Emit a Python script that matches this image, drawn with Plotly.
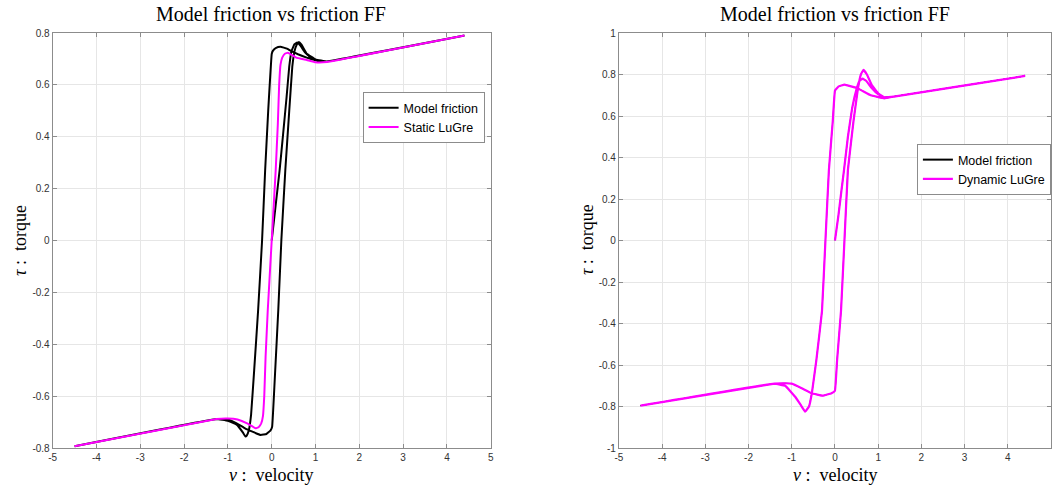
import plotly.graph_objects as go

# ---- Left panel: model friction (hysteresis loop) and static LuGre map ----
left_model_v = [0, 0.09, 0.18, 0.26, 0.34, 0.40, 0.45, 0.52, 0.58, 0.66, 0.76, 0.9, 1.05, 1.26, 4.4,
                1.26, 1.0, 0.8, 0.6, 0.47, 0.35, 0.2, 0.1, 0.03, 0.0, -0.08, -0.15, -0.22, -0.31, -0.40,
                -0.47, -0.52, -0.57, -0.6, -0.66, -0.8, -1.0, -1.26, -4.5,
                -1.26, -1.0, -0.8, -0.6, -0.44, -0.25, -0.12, -0.03, 0.01, 0.08, 0.15, 0.22, 0.31, 0.40,
                0.47, 0.52, 0.57, 0.62, 0.68, 0.8, 1.0, 1.26, 4.4]
left_model_tau = [0, 0.135, 0.27, 0.41, 0.554, 0.67, 0.73, 0.757, 0.763, 0.75, 0.725, 0.703, 0.692, 0.69, 0.79,
                  0.69, 0.695, 0.705, 0.718, 0.728, 0.74, 0.747, 0.743, 0.732, 0.719, 0.5, 0.27, 0.0, -0.268, -0.5,
                  -0.67, -0.73, -0.752, -0.756, -0.74, -0.71, -0.695, -0.688, -0.793,
                  -0.688, -0.69, -0.705, -0.725, -0.737, -0.75, -0.746, -0.733, -0.718, -0.5, -0.268, 0.0, 0.27, 0.5,
                  0.67, 0.73, 0.755, 0.765, 0.755, 0.72, 0.698, 0.69, 0.79]

left_static_v = [-4.5, -1.26, -1.0, -0.78, -0.56, -0.45, -0.37, -0.3, -0.24, -0.2, -0.17, -0.14, -0.09, 0,
                 0.09, 0.14, 0.17, 0.2, 0.24, 0.3, 0.37, 0.45, 0.56, 0.8, 1.0, 1.26, 4.4]
left_static_tau = [-0.793, -0.688, -0.686, -0.69, -0.705, -0.716, -0.724, -0.72, -0.705, -0.677, -0.6, -0.45, -0.268, 0,
                   0.268, 0.45, 0.6, 0.677, 0.705, 0.72, 0.724, 0.716, 0.705, 0.696, 0.687, 0.688, 0.79]

# ---- Right panel: dynamic LuGre (model friction lies underneath) ----
right_dyn_v = [0, 0.08, 0.15, 0.21, 0.3, 0.4, 0.5, 0.57, 0.64, 0.72, 0.85, 1.0, 1.14, 1.4, 4.4,
               1.4, 1.14, 0.83, 0.53, 0.22, 0.08, 0.0, -0.05, -0.14, -0.22, -0.30, -0.43, -0.53, -0.6, -0.69,
               -0.8, -0.92, -1.15, -1.4, -4.5,
               -1.4, -1.15, -1.0, -0.77, -0.54, -0.28, -0.08, 0.0, 0.05, 0.14, 0.22, 0.30, 0.43, 0.53, 0.6,
               0.66, 0.74, 0.85, 1.0, 1.14, 1.4, 4.4]
right_dyn_tau = [0, 0.12, 0.24, 0.34, 0.5, 0.64, 0.73, 0.77, 0.78, 0.77, 0.735, 0.705, 0.69, 0.695, 0.793,
                 0.695, 0.685, 0.70, 0.733, 0.751, 0.742, 0.722, 0.576, 0.34, 0.0, -0.34, -0.576, -0.73, -0.8, -0.825,
                 -0.79, -0.753, -0.70, -0.69, -0.796,
                 -0.69, -0.688, -0.69, -0.712, -0.736, -0.748, -0.736, -0.724, -0.576, -0.34, 0.0, 0.34, 0.576, 0.73, 0.8,
                 0.822, 0.8, 0.75, 0.71, 0.69, 0.695, 0.793]

# ---- Tick values / labels ----
x_ticks = [-5, -4, -3, -2, -1, 0, 1, 2, 3, 4, 5]
x_ticklabels = ["-5", "-4", "-3", "-2", "-1", "0", "1", "2", "3", "4", "5"]
left_y_ticks = [-0.8, -0.6, -0.4, -0.2, 0, 0.2, 0.4, 0.6, 0.8]
left_y_ticklabels = ["-0.8", "-0.6", "-0.4", "-0.2", "0", "0.2", "0.4", "0.6", "0.8"]
right_y_ticks = [-1, -0.8, -0.6, -0.4, -0.2, 0, 0.2, 0.4, 0.6, 0.8, 1]
right_y_ticklabels = ["-1", "-0.8", "-0.6", "-0.4", "-0.2", "0", "0.2", "0.4", "0.6", "0.8", "1"]

W, H = 1054, 486
MT, MB = 33, 38
PH = H - MT - MB
BLACK = "#000000"
MAGENTA = "#ff00ff"
SERIF = "Liberation Serif, Times New Roman, serif"
SANS = "Liberation Sans, Arial, sans-serif"


def px_x(p):
    return p / W


def px_y(p):
    return (H - MB - p) / PH


def line_style(color, width=2):
    return dict(color=color, width=width, shape="spline", smoothing=0.2)


fig = go.Figure()
fig.add_trace(go.Scatter(x=left_model_v, y=left_model_tau, mode="lines", name="Model friction",
                         line=line_style(BLACK), xaxis="x", yaxis="y", legend="legend"))
fig.add_trace(go.Scatter(x=left_static_v, y=left_static_tau, mode="lines", name="Static LuGre",
                         line=line_style(MAGENTA), xaxis="x", yaxis="y", legend="legend"))

# Right panel: the model-friction curve is drawn thin beneath the LuGre curve;
# its legend entry uses a standard-width key.
fig.add_trace(go.Scatter(x=right_dyn_v, y=right_dyn_tau, mode="lines", name="Model friction",
                         line=line_style(BLACK, 1), xaxis="x2", yaxis="y2", showlegend=False))
fig.add_trace(go.Scatter(x=[None], y=[None], mode="lines", name="Model friction",
                         line=line_style(BLACK), xaxis="x2", yaxis="y2", legend="legend2"))
fig.add_trace(go.Scatter(x=right_dyn_v, y=right_dyn_tau, mode="lines", name="Dynamic LuGre",
                         line=line_style(MAGENTA, 2.2), xaxis="x2", yaxis="y2", legend="legend2"))

axis_common = dict(
    showline=True, linecolor="#8c8c8c", linewidth=1, mirror="allticks",
    ticks="inside", ticklen=4, tickcolor="#8c8c8c", tickwidth=1,
    showgrid=True, gridcolor="#e6e6e6", gridwidth=1, zeroline=False,
    tickfont=dict(family=SANS, size=10, color="#333333"),
)

legend_common = dict(xanchor="left", yanchor="top", bgcolor="white", bordercolor="#8c8c8c",
                     borderwidth=1, font=dict(family=SANS, size=12.5, color="#000000"),
                     tracegroupgap=0, itemwidth=30)

fig.update_layout(
    width=W, height=H,
    margin=dict(l=0, r=0, t=MT, b=MB),
    paper_bgcolor="white", plot_bgcolor="white",
    xaxis=dict(domain=[px_x(49), px_x(490)], range=[-5, 5], tickvals=x_ticks, ticktext=x_ticklabels,
               anchor="y", **axis_common),
    yaxis=dict(domain=[0, 1], range=[-0.8, 0.8], tickvals=left_y_ticks, ticktext=left_y_ticklabels,
               anchor="x", **axis_common),
    xaxis2=dict(domain=[px_x(619), 1.0], range=[-5, 5], tickvals=x_ticks, ticktext=x_ticklabels,
                anchor="y2", **axis_common),
    yaxis2=dict(domain=[0, 1], range=[-1, 1], tickvals=right_y_ticks, ticktext=right_y_ticklabels,
                anchor="x2", **axis_common),
    legend=dict(x=px_x(361), y=px_y(92), **legend_common),
    legend2=dict(x=px_x(919), y=px_y(144), **legend_common),
    showlegend=True,
)

annotations = [
    dict(text="Model friction vs friction FF", x=px_x(269), y=px_y(14), size=20),
    dict(text="Model friction vs friction FF", x=px_x(837), y=px_y(14), size=20),
    dict(text="<i>v</i> :  velocity", x=px_x(269), y=px_y(475), size=18),
    dict(text="<i>v</i> :  velocity", x=px_x(837), y=px_y(475), size=18),
    dict(text="<i>τ</i> :  torque", x=px_x(16), y=px_y(240), size=18, textangle=-90),
    dict(text="<i>τ</i> :  torque", x=px_x(587), y=px_y(240), size=18, textangle=-90),
]
for a in annotations:
    size = a.pop("size")
    fig.add_annotation(xref="paper", yref="paper", showarrow=False, xanchor="center", yanchor="middle",
                       font=dict(family=SERIF, size=size, color="#000000"), **a)

fig.write_html("out.html")
